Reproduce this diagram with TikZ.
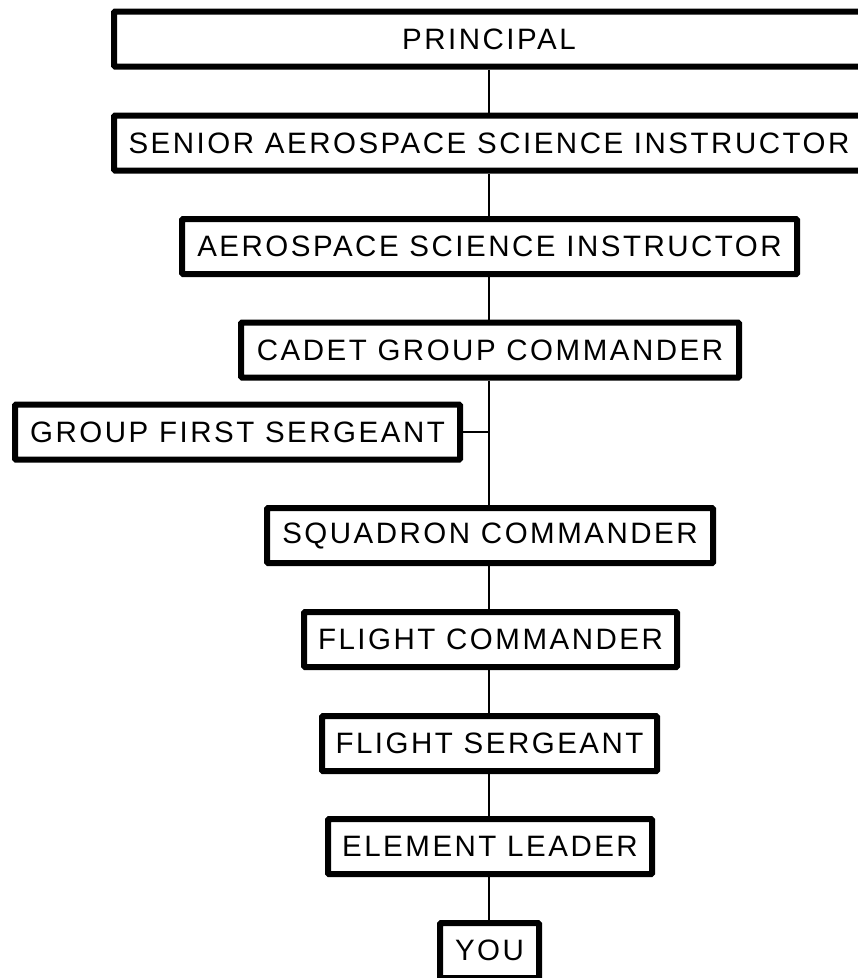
\documentclass[tikz,border=0pt]{standalone}
\usepackage{fontspec}
\setmainfont{Liberation Sans}[LetterSpace=8.5]
\begin{document}
\begin{tikzpicture}[x=1pt,y=-1pt,
  rankbox/.style={draw=black, line width=6pt, fill=white, rounded corners=1pt,
    inner sep=0pt, minimum height=55pt, font=\fontsize{29.5pt}{32pt}\selectfont},
  link/.style={draw=black, line width=2pt}]
  \clip (0,0) rectangle (858,978);
  \useasboundingbox (0,0) rectangle (858,978);

  % chain of command, top to bottom
  \node[rankbox, minimum width=750pt] (principal) at (489,39) {PRINCIPAL};
  \node[rankbox, minimum width=750pt] (sasi) at (489,143) {SENIOR AEROSPACE SCIENCE INSTRUCTOR};
  \node[rankbox, minimum width=615pt] (asi) at (489.5,246.5) {AEROSPACE SCIENCE INSTRUCTOR};
  \node[rankbox, minimum width=498pt] (cgc) at (490,350) {CADET GROUP COMMANDER};
  \node[rankbox, minimum width=445pt] (gfs) at (237.5,432) {GROUP FIRST SERGEANT};
  \node[rankbox, minimum width=446pt] (sqc) at (490,535.5) {SQUADRON COMMANDER};
  \node[rankbox, minimum width=373pt] (fc) at (490.5,639.5) {FLIGHT COMMANDER};
  \node[rankbox, minimum width=335pt] (fs) at (489.5,743.5) {FLIGHT SERGEANT};
  \node[rankbox, minimum width=324pt] (el) at (490,846.5) {ELEMENT LEADER};
  \node[rankbox, minimum width=99pt] (you) at (489.5,950.5) {YOU};

  % vertical spine between successive ranks
  \draw[link] (principal.south -| 489,0) -- (sasi.north -| 489,0);
  \draw[link] (sasi.south -| 489,0) -- (asi.north -| 489,0);
  \draw[link] (asi.south -| 489,0) -- (cgc.north -| 489,0);
  \draw[link] (cgc.south -| 489,0) -- (sqc.north -| 489,0);
  \draw[link] (sqc.south -| 489,0) -- (fc.north -| 489,0);
  \draw[link] (fc.south -| 489,0) -- (fs.north -| 489,0);
  \draw[link] (fs.south -| 489,0) -- (el.north -| 489,0);
  \draw[link] (el.south -| 489,0) -- (you.north -| 489,0);

  % staff branch off the spine
  \coordinate (tap) at (489,432);
  \draw[link] (gfs.east) -- (tap);
\end{tikzpicture}
\end{document}
